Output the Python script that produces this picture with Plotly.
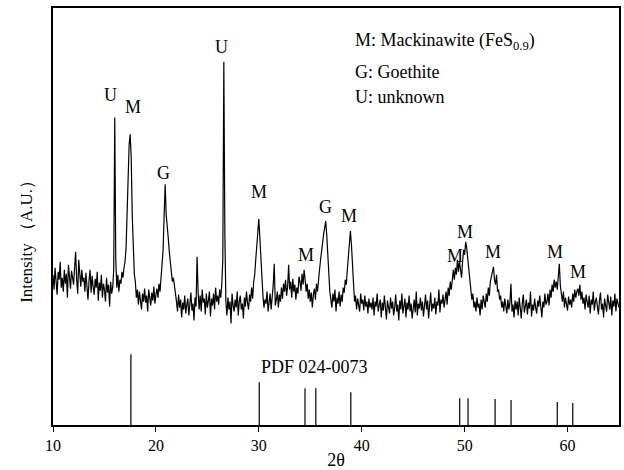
import numpy as np
import plotly.graph_objects as go

# 2-theta grid of the measured pattern (0.1 deg step, 10..65)
two_theta = [round(10 + 0.1 * i, 1) for i in range(551)]

intensity = [
    145,130,152,138,125,148,140,158,132,142,
    128,150,136,146,122,155,138,131,149,140,
    135,152,168,140,126,160,145,133,150,138,
    142,128,147,136,120,139,150,127,144,133,
    125,141,132,148,119,137,129,145,122,136,
    130,118,142,127,135,113,138,126,132,150,
    303,160,132,145,128,140,136,148,142,152,
    158,172,212,250,276,286,262,205,165,146,
    138,122,130,115,128,120,110,126,118,131,
    117,124,108,130,121,114,127,119,133,116,
    125,131,122,136,128,140,150,170,205,236,
    205,196,182,168,158,150,138,142,130,126,
    118,108,125,112,120,102,117,110,124,106,
    115,121,104,118,127,109,116,99,122,113,
    163,128,110,124,108,130,117,121,105,126,
    112,119,128,103,121,114,126,110,132,118,
    124,115,130,122,135,160,359,185,118,104,
    122,110,118,96,126,114,108,120,112,128,
    104,118,124,110,116,101,122,113,128,117,
    110,125,118,132,121,138,145,160,172,190,
    201,182,158,135,124,112,120,116,128,108,
    118,126,110,122,135,156,114,120,128,112,
    125,118,132,121,136,128,140,124,133,155,
    130,138,122,141,128,135,120,132,126,143,
    138,129,146,135,150,140,128,136,121,130,
    118,127,112,125,131,120,136,128,145,150,
    160,170,180,186,192,199,185,165,140,128,
    120,112,126,118,130,108,122,116,128,113,
    125,118,132,127,140,135,150,162,178,189,
    175,150,128,118,124,110,121,115,108,126,
    116,120,109,124,113,118,106,121,112,117,
    110,122,104,118,113,126,108,115,120,102,
    117,109,124,112,100,119,114,106,122,111,
    118,104,112,125,108,115,99,119,110,126,
    106,114,121,102,117,110,124,108,116,101,
    113,120,107,128,104,116,111,122,109,118,
    103,115,125,110,119,101,113,127,108,116,
    111,122,105,118,114,130,107,120,116,125,
    112,121,128,115,132,124,138,130,145,150,
    140,152,145,160,148,159,150,142,158,170,
    165,178,172,160,150,138,128,120,126,112,
    118,108,122,112,116,104,120,110,124,115,
    112,126,118,132,124,138,142,148,153,140,
    135,145,128,130,120,124,112,118,108,121,
    114,106,120,110,117,136,108,115,102,119,
    110,118,104,122,112,101,116,125,107,114,
    120,105,117,111,128,103,115,109,121,112,
    106,119,113,124,110,102,118,112,126,115,
    118,126,114,130,122,135,128,140,132,138,
    130,145,156,134,125,118,128,112,122,116,
    109,123,115,120,112,126,118,130,122,128,
    131,124,135,120,128,116,122,110,125,118,
    112,124,106,120,115,128,109,118,122,113,
    105,119,127,110,116,102,121,114,108,125,
    117,110,123,104,119,113,126,108,121,115,
    112,
]

# PDF 024-0073 reference sticks
pdf_pos = [17.57, 30.04, 34.49, 35.54, 38.94, 49.52, 50.33, 52.96, 54.51, 59.0, 60.51]
pdf_int = [71, 43, 37, 37, 33, 27, 27, 26, 25, 23, 22]
pdf_base = -6

# Peak labels
lab_text = ["U", "M", "G", "U", "M", "M", "G", "M", "M", "M", "M", "M", "M"]
lab_x = [15.55, 17.75, 20.75, 26.4, 30.05, 34.6, 36.45, 38.75, 49.1, 50.0, 52.8, 58.8, 61.0]
lab_y = [326, 314, 247, 374, 228, 165, 213, 204, 164, 188, 168, 168, 148]

legend_lines = ["M: Mackinawite (FeS<sub>0.9</sub>)", "G: Goethite", "U: unknown"]
legend_y = [379, 349, 324]

FONT = "Liberation Serif"

fig = go.Figure()
fig.add_trace(go.Scatter(x=two_theta, y=intensity, mode="lines",
                         line=dict(color="black", width=1.2), showlegend=False))

sx, sy = [], []
for p, h in zip(pdf_pos, pdf_int):
    sx += [p, p, None]
    sy += [pdf_base, pdf_base + h, None]
fig.add_trace(go.Scatter(x=sx, y=sy, mode="lines",
                         line=dict(color="black", width=1.2), showlegend=False))

for t, x, y in zip(lab_text, lab_x, lab_y):
    fig.add_annotation(x=x, y=y, text=t, showarrow=False,
                       font=dict(family=FONT, size=18, color="black"))

for t, y in zip(legend_lines, legend_y):
    fig.add_annotation(x=39.2, y=y, text=t, showarrow=False, xanchor="left",
                       font=dict(family=FONT, size=18, color="black"))

fig.add_annotation(x=35.4, y=52, text="PDF 024-0073", showarrow=False,
                   font=dict(family=FONT, size=18, color="black"))

fig.add_annotation(xref="paper", yref="paper", x=0, y=0.45, xshift=-38,
                   text="Intensity （A.U.）", textangle=-90, showarrow=False,
                   font=dict(family=FONT, size=17, color="black"))

fig.update_layout(
    width=624, height=470,
    margin=dict(l=53, r=3, t=8, b=43),
    paper_bgcolor="white", plot_bgcolor="white",
    font=dict(family=FONT, size=16, color="black"),
)
fig.update_xaxes(range=[10, 65], tickvals=[10, 20, 30, 40, 50, 60],
                 ticks="outside", ticklen=5, tickwidth=1.2, tickcolor="black",
                 showline=True, linecolor="black", linewidth=1.5, mirror=True,
                 showgrid=False, zeroline=False,
                 tickfont=dict(family=FONT, size=16),
                 title=dict(text="2θ", font=dict(family=FONT, size=18), standoff=0))
fig.update_yaxes(range=[-6, 413], showticklabels=False, ticks="",
                 showline=True, linecolor="black", linewidth=1.5, mirror=True,
                 showgrid=False, zeroline=False)

fig.write_html("out.html")
